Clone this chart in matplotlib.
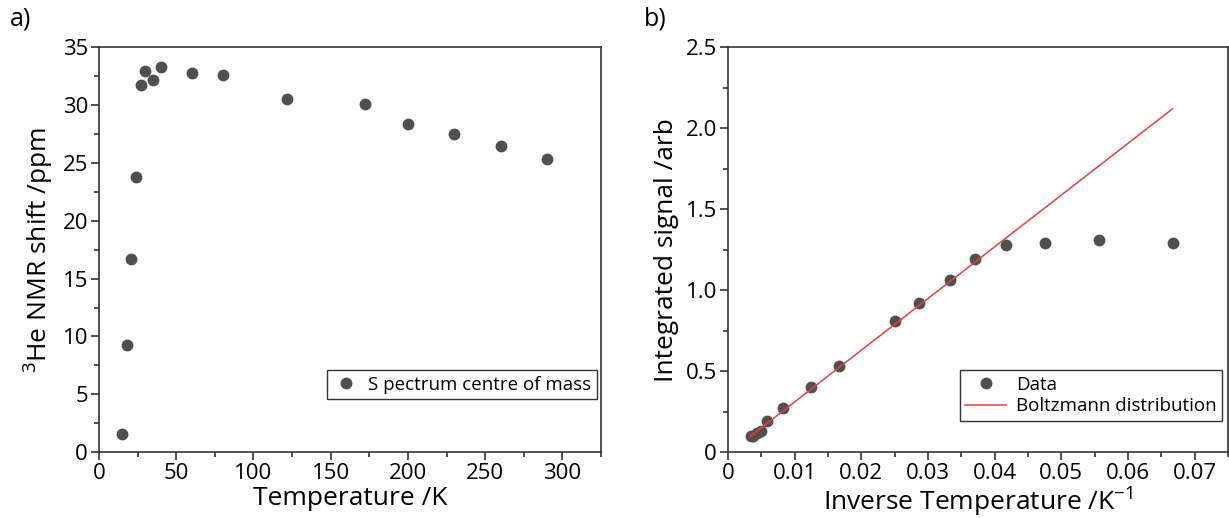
#!/usr/bin/env python3
"""3He NMR shift and integrated signal versus temperature, two panels."""

import matplotlib

matplotlib.use("Agg")
from matplotlib import pyplot as plt
from matplotlib.ticker import AutoMinorLocator, FixedLocator, FuncFormatter

plt.rcParams["font.family"] = ["Open Sans", "DejaVu Sans"]
plt.rcParams["mathtext.fontset"] = "custom"
plt.rcParams["mathtext.rm"] = "Open Sans"
plt.rcParams["mathtext.it"] = "Open Sans"

# panel a: spectrum centre of mass
temperature_k = [15, 18, 21, 24, 27, 30, 35, 40, 60, 80, 122, 172, 200, 230, 260, 290]
shift_ppm = [1.6, 9.3, 16.7, 23.8, 31.7, 32.9, 32.2, 33.3, 32.8, 32.6, 30.5, 30.1, 28.4, 27.5, 26.5, 25.3]

# panel b: integrated signal against 1/T
inverse_temperature = [0.0667, 0.0556, 0.0476, 0.0417, 0.0370, 0.0333, 0.0286, 0.0250,
                       0.0167, 0.0125, 0.0082, 0.0058, 0.0050, 0.0043, 0.0038, 0.0034]
integrated_signal = [1.29, 1.31, 1.29, 1.28, 1.19, 1.06, 0.92, 0.81,
                     0.53, 0.40, 0.27, 0.19, 0.13, 0.12, 0.10, 0.10]
boltzmann_x = [0.0034, 0.0667]
boltzmann_y = [0.10, 2.12]

MARKER = "#505050"
SPINE = "#333333"


def _style(axis):
    for spine in axis.spines.values():
        spine.set_linewidth(1.2)
        spine.set_color(SPINE)
    axis.tick_params(which="both", direction="out", top=False, right=False,
                     color=SPINE, width=1.2, labelsize=16, pad=2)
    axis.tick_params(which="major", length=6)
    axis.tick_params(which="minor", length=3.5)
    axis.xaxis.set_minor_locator(AutoMinorLocator(2))
    axis.yaxis.set_minor_locator(AutoMinorLocator(2))


def _legend(axis, anchor, handlelength):
    legend = axis.legend(loc="lower right", bbox_to_anchor=anchor, fontsize=13.5,
                         fancybox=False, framealpha=1, edgecolor=SPINE,
                         handlelength=handlelength, handletextpad=0.5, borderpad=0.3,
                         labelspacing=0.2, borderaxespad=0)
    legend.get_frame().set_linewidth(1.0)


figure = plt.figure(figsize=(12.29, 5.18), dpi=100)
shift_axis = figure.add_axes([0.0806, 0.127, 0.4084, 0.782])
signal_axis = figure.add_axes([0.5924, 0.127, 0.4068, 0.782])

shift_axis.plot(temperature_k, shift_ppm, "o", color=MARKER, markersize=7.5,
                label="S pectrum centre of mass")
shift_axis.set_xlim(0, 325)
shift_axis.set_ylim(0, 35)
shift_axis.xaxis.set_major_locator(FixedLocator([0, 50, 100, 150, 200, 250, 300]))
shift_axis.yaxis.set_major_locator(FixedLocator([0, 5, 10, 15, 20, 25, 30, 35]))
shift_axis.set_xlabel("Temperature /K", fontsize=19, labelpad=1)
shift_axis.set_ylabel(r"$^{3}$He NMR shift /ppm", fontsize=19, labelpad=5)
_style(shift_axis)
_legend(shift_axis, (0.992, 0.131), 1.4)

signal_axis.plot(inverse_temperature, integrated_signal, "o", color=MARKER,
                 markersize=7.5, label="Data")
signal_axis.plot(boltzmann_x, boltzmann_y, "-", color="#f03c3c", linewidth=1.1,
                 label="Boltzmann distribution")
signal_axis.set_xlim(0, 0.075)
signal_axis.set_ylim(0, 2.5)
signal_axis.xaxis.set_major_locator(FixedLocator([0, 0.01, 0.02, 0.03, 0.04, 0.05, 0.06, 0.07]))
signal_axis.yaxis.set_major_locator(FixedLocator([0, 0.5, 1.0, 1.5, 2.0, 2.5]))
signal_axis.xaxis.set_major_formatter(FuncFormatter(lambda v, _: "0" if v == 0 else f"{v:.2f}"))
signal_axis.yaxis.set_major_formatter(FuncFormatter(lambda v, _: "0" if v == 0 else f"{v:.1f}"))
signal_axis.set_xlabel(r"Inverse Temperature /K$^{-1}$", fontsize=19, labelpad=1)
signal_axis.set_ylabel("Integrated signal /arb", fontsize=19, labelpad=5)
_style(signal_axis)
_legend(signal_axis, (0.988, 0.077), 2.2)

figure.text(0.008, 0.963, "a)", fontsize=18, va="center", ha="left")
figure.text(0.524, 0.963, "b)", fontsize=18, va="center", ha="left")

figure.savefig("out.png", dpi=100, facecolor="white")
plt.close(figure)
